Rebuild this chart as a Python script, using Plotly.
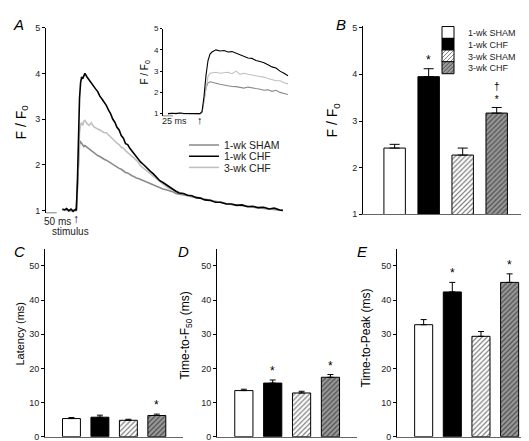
import plotly.graph_objects as go

FONT = "Arial, Liberation Sans, sans-serif"
W, H = 529, 441

# ---------------- Panel A: Ca transients (time in ms, stimulus at 0) ----------------
trace_t = [-65, -55, -45, -35, -25, -15, -5, 0,
           5, 10, 15, 20, 25, 30, 35, 40,
           50, 60, 70, 80, 90, 100, 110, 120, 130, 140, 150, 160, 170, 180, 190, 200,
           210, 220, 230, 240, 250, 260, 270, 280, 290, 300,
           315, 330, 345, 360, 375, 390, 405, 420, 435, 450, 465, 480,
           500, 520, 540, 560, 580, 600,
           625, 650, 675, 700, 725, 750, 775, 800, 825, 850, 875, 900, 925, 950, 965]
chf1_trace = [1.03, 1.01, 1.04, 0.99, 1.03, 0.98, 1.02, 1.00,
              1.6, 2.7, 3.45, 3.8, 3.92, 3.88, 3.97, 4.0,
              3.92, 3.85, 3.8, 3.72, 3.66, 3.6, 3.5, 3.44, 3.38, 3.3, 3.2, 3.12, 3.0, 2.93, 2.82, 2.76,
              2.64, 2.58, 2.46, 2.44, 2.36, 2.3, 2.25, 2.18, 2.12, 2.06,
              2.0, 1.92, 1.86, 1.8, 1.72, 1.65, 1.61, 1.56, 1.5, 1.46, 1.42, 1.38,
              1.37, 1.33, 1.32, 1.28, 1.27, 1.23,
              1.22, 1.18, 1.18, 1.14, 1.14, 1.11, 1.12, 1.08, 1.09, 1.06, 1.07, 1.03, 1.05, 1.01, 1.00]
chf3_trace = [1.01, 1.0, 1.02, 1.0, 1.01, 0.99, 1.0, 1.0,
              1.4, 2.2, 2.7, 2.88, 2.92, 2.86, 2.95, 2.97,
              2.9, 2.86, 2.92, 2.84, 2.8, 2.78, 2.76, 2.72, 2.7, 2.7, 2.66, 2.6, 2.56, 2.52, 2.47, 2.44,
              2.38, 2.36, 2.31, 2.27, 2.22, 2.2, 2.14, 2.1, 2.05, 1.98,
              1.92, 1.86, 1.8, 1.75, 1.69, 1.62, 1.57, 1.52, 1.48, 1.45, 1.42, 1.39,
              1.36, 1.33, 1.31, 1.28, 1.26, 1.24,
              1.21, 1.19, 1.17, 1.15, 1.13, 1.12, 1.1, 1.09, 1.08, 1.06, 1.06, 1.04, 1.03, 1.02, 1.01]
sham1_trace = [1.0, 1.02, 1.0, 1.01, 0.99, 1.01, 1.0, 1.0,
               1.5, 2.2, 2.45, 2.5, 2.46, 2.44, 2.4, 2.42,
               2.38, 2.34, 2.32, 2.27, 2.24, 2.2, 2.18, 2.14, 2.12, 2.1, 2.07, 2.04, 2.0, 1.98, 1.95, 1.92,
               1.9, 1.86, 1.83, 1.82, 1.78, 1.76, 1.74, 1.71, 1.7, 1.68,
               1.64, 1.62, 1.58, 1.55, 1.52, 1.5, 1.47, 1.45, 1.43, 1.41, 1.37, 1.36,
               1.34, 1.32, 1.3, 1.28, 1.26, 1.24,
               1.21, 1.19, 1.17, 1.15, 1.13, 1.12, 1.1, 1.09, 1.07, 1.06, 1.05, 1.04, 1.03, 1.02, 1.0]

# inset (expanded time base)
inset_t = [-80, -70, -60, -50, -40, -30, -20, -10, 0,
           5, 10, 15, 20, 25, 30,
           40, 50, 60, 70, 80, 90, 100, 110, 120, 130, 140, 150, 160, 170, 180, 190, 200, 210, 220]
inset_chf1 = [1.0, 1.02, 1.0, 1.03, 1.01, 1.0, 1.02, 0.99, 1.0,
              1.1, 1.8, 2.8, 3.5, 3.8, 3.9,
              4.0, 3.95, 3.97, 3.9, 3.92, 3.85, 3.75, 3.7, 3.62, 3.6, 3.5, 3.45, 3.4, 3.3, 3.2, 3.15, 3.0, 2.9, 2.78]
inset_chf3 = [1.0, 1.01, 1.0, 1.02, 1.0, 1.01, 1.0, 1.0, 1.0,
              1.05, 1.6, 2.3, 2.75, 2.9, 2.92,
              2.95, 2.9, 2.93, 2.95, 2.88, 3.0, 2.85, 2.9, 2.85, 2.8, 2.78, 2.75, 2.72, 2.65, 2.6, 2.55, 2.55, 2.45, 2.4]
inset_sham1 = [1.0, 1.01, 1.0, 1.02, 1.0, 1.01, 1.0, 1.0, 1.0,
               1.05, 1.6, 2.2, 2.45, 2.5, 2.48,
               2.42, 2.38, 2.35, 2.3, 2.28, 2.27, 2.25, 2.2, 2.25, 2.2, 2.18, 2.15, 2.1, 2.12, 2.05, 2.1, 2.0, 1.95, 1.9]

# ---------------- Bar panels ----------------
groups = ["1-wk SHAM", "1-wk CHF", "3-wk SHAM", "3-wk CHF"]
peak_mean = [2.42, 3.95, 2.27, 3.17]
peak_sem = [0.08, 0.17, 0.15, 0.12]
peak_marks = ["", "*", "", "†<br>*"]
latency_mean = [5.3, 5.7, 4.8, 6.2]
latency_sem = [0.3, 0.6, 0.3, 0.4]
latency_marks = ["", "", "", "*"]
tf50_mean = [13.5, 15.7, 12.8, 17.4]
tf50_sem = [0.4, 0.9, 0.5, 0.8]
tf50_marks = ["", "*", "", "*"]
ttp_mean = [32.8, 42.4, 29.4, 45.2]
ttp_sem = [1.5, 2.8, 1.4, 2.5]
ttp_marks = ["", "*", "", "*"]


def px(x):
    return x / W


def py(y):
    return 1 - y / H


fig = go.Figure()

# ---- Panel A traces ----
line_colors = {"1-wk SHAM": "#8a8a8a", "1-wk CHF": "#000000", "3-wk CHF": "#c0c0c0"}
main_data = {"1-wk SHAM": sham1_trace, "1-wk CHF": chf1_trace, "3-wk CHF": chf3_trace}
inset_data = {"1-wk SHAM": inset_sham1, "1-wk CHF": inset_chf1, "3-wk CHF": inset_chf3}
legend_ids = {"1-wk SHAM": "legend", "1-wk CHF": "legend2", "3-wk CHF": "legend3"}
for name in ["1-wk SHAM", "3-wk CHF", "1-wk CHF"]:
    fig.add_trace(go.Scatter(x=trace_t, y=main_data[name], mode="lines", name=name,
                             line=dict(color=line_colors[name], width=1.6),
                             xaxis="x", yaxis="y", showlegend=True, legend=legend_ids[name]))
for name in ["1-wk SHAM", "3-wk CHF", "1-wk CHF"]:
    fig.add_trace(go.Scatter(x=inset_t, y=inset_data[name], mode="lines", name=name,
                             line=dict(color=line_colors[name], width=1.1),
                             xaxis="x2", yaxis="y2", showlegend=False))

# ---- Bars ----
bar_styles = [
    dict(color="white", line=dict(color="black", width=1)),
    dict(color="black", line=dict(color="black", width=1)),
    dict(color="white", line=dict(color="black", width=1),
         pattern=dict(shape="/", fgcolor="black", bgcolor="white", size=3.5, solidity=0.35)),
    dict(color="#9a9a9a", line=dict(color="black", width=1),
         pattern=dict(shape="/", fgcolor="black", bgcolor="#9a9a9a", size=3.5, solidity=0.35)),
]
panels = [
    ("x3", "y3", peak_mean, peak_sem, peak_marks, 5, True),
    ("x4", "y4", latency_mean, latency_sem, latency_marks, 3, False),
    ("x5", "y5", tf50_mean, tf50_sem, tf50_marks, 3, False),
    ("x6", "y6", ttp_mean, ttp_sem, ttp_marks, 3, False),
]
annotations = []
for xa, ya, means, sems, marks, capw, show in panels:
    for i, g in enumerate(groups):
        kw = dict(legend=f"legend{4 + i}") if show else {}
        fig.add_trace(go.Bar(
            x=[i], y=[means[i]], width=0.63, name=g, marker=bar_styles[i],
            error_y=dict(type="data", array=[sems[i]], arrayminus=[0], symmetric=False,
                         color="black", thickness=1, width=capw),
            xaxis=xa, yaxis=ya, showlegend=show, **kw))
        if marks[i]:
            multi = "<br>" in marks[i]
            annotations.append(dict(x=i, y=means[i] + sems[i], xref=xa, yref=ya, text=marks[i],
                                    showarrow=False, yanchor="bottom", yshift=0,
                                    font=dict(family=FONT, size=10 if multi else 12, color="black")))

# ---- axes ----
yax_common = dict(showline=True, linecolor="black", linewidth=1, ticks="outside", ticklen=3,
                  tickcolor="black", tickfont=dict(family=FONT, size=9, color="#222"),
                  showgrid=False, zeroline=False)
xbar_common = dict(showline=True, linecolor="#666", linewidth=1, ticks="", showticklabels=False,
                   showgrid=False, zeroline=False, range=[-0.93, 3.92])
BOT = 433.5

layout = dict(
    width=W, height=H, margin=dict(l=0, r=0, t=0, b=0),
    paper_bgcolor="white", plot_bgcolor="rgba(0,0,0,0)",
    barmode="overlay", font=dict(family=FONT, color="black"),
    xaxis=dict(domain=[px(38), px(280)], range=[-141.6, 989], visible=False),
    yaxis=dict(domain=[py(204.8), py(15)], range=[0.94, 5], tickvals=[1, 2, 3, 4, 5], **yax_common),
    xaxis2=dict(domain=[px(155), px(282)], range=[-92.5, 225], visible=False),
    yaxis2=dict(domain=[py(105.6), py(16)], range=[0.88, 5], tickvals=[1, 2, 3, 4, 5],
                **{**yax_common, "tickfont": dict(family=FONT, size=8, color="#222"), "ticklen": 2}),
    xaxis3=dict(domain=[px(355), px(520)], **xbar_common),
    yaxis3=dict(domain=[py(206), py(13.1)], range=[1, 5.04], tickvals=[1, 2, 3, 4, 5], **yax_common),
    xaxis4=dict(domain=[px(37), px(175)], **xbar_common),
    yaxis4=dict(domain=[py(BOT), py(241.4)], range=[0, 55], tickvals=[0, 10, 20, 30, 40, 50], **yax_common),
    xaxis5=dict(domain=[px(209), px(349)], **xbar_common),
    yaxis5=dict(domain=[py(BOT), py(241.4)], range=[0, 55], tickvals=[0, 10, 20, 30, 40, 50], **yax_common),
    xaxis6=dict(domain=[px(389), px(528)], **xbar_common),
    yaxis6=dict(domain=[py(BOT), py(241.4)], range=[0, 55], tickvals=[0, 10, 20, 30, 40, 50], **yax_common),
)
for i, k in enumerate(["xaxis", "xaxis2", "xaxis3", "xaxis4", "xaxis5", "xaxis6"]):
    layout[k]["anchor"] = ["y", "y2", "y3", "y4", "y5", "y6"][i]
for i, k in enumerate(["yaxis", "yaxis2", "yaxis3", "yaxis4", "yaxis5", "yaxis6"]):
    layout[k]["anchor"] = ["x", "x2", "x3", "x4", "x5", "x6"][i]

# legends: one per entry so spacing can be as tight as in the figure
leg_base = dict(bgcolor="rgba(0,0,0,0)", borderwidth=0, xanchor="left", yanchor="middle",
                itemwidth=30, itemclick=False, itemdoubleclick=False)
legA_y = {"legend": 135, "legend2": 146.5, "legend3": 158}
for lid, yy in legA_y.items():
    layout[lid] = dict(x=px(176), y=py(yy), font=dict(family=FONT, size=10.5, color="#222"), **leg_base)
for i in range(4):
    layout[f"legend{4 + i}"] = dict(x=px(420), y=py(20 + 12 * i),
                                    font=dict(family=FONT, size=9, color="#222"), **leg_base)


def txt(x, y, s, size=12, angle=0, italic=False, color="black"):
    annotations.append(dict(x=px(x), y=py(y), xref="paper", yref="paper", text=s, showarrow=False,
                            textangle=angle, xanchor="center", yanchor="middle",
                            font=dict(family=FONT, size=size, color=color,
                                      style="italic" if italic else "normal")))


for letter, (lx, ly) in {"A": (10, 12), "B": (333, 12), "C": (11, 244), "D": (175, 244), "E": (354, 244)}.items():
    txt(lx, ly, letter, size=15, italic=True)
txt(14, 112, "F / F<sub>0</sub>", size=14, angle=-90)
txt(137, 61, "F / F<sub>0</sub>", size=10, angle=-90)
txt(325, 110, "F / F<sub>0</sub>", size=14, angle=-90)
txt(12, 328, "Latency (ms)", size=11, angle=-90)
txt(178, 330, "Time-to-F<sub>50</sub> (ms)", size=12, angle=-90)
txt(358, 333, "Time-to-Peak (ms)", size=12, angle=-90)
txt(49, 213, "50 ms", size=10, color="#222")
txt(166, 111, "25 ms", size=9, color="#222")
txt(62, 224, "stimulus", size=10, color="#222")

# stimulus arrows (glyphs placed at stimulus time 0)
annotations.append(dict(x=0, y=py(211), xref="x", yref="paper", text="↑", showarrow=False,
                        yanchor="middle", font=dict(family=FONT, size=12, color="black")))
annotations.append(dict(x=0, y=py(109), xref="x2", yref="paper", text="↑", showarrow=False,
                        yanchor="middle", font=dict(family=FONT, size=11, color="black")))

# time scale bars (50 ms main, 25 ms inset) along the bottom of each y axis
shapes = [
    dict(type="line", xref="x", yref="y", x0=-141.6, x1=-141.6 + 50, y0=0.94, y1=0.94,
         line=dict(color="black", width=1)),
    dict(type="line", xref="x2", yref="y2", x0=-92.5, x1=-92.5 + 25, y0=0.88, y1=0.88,
         line=dict(color="black", width=1)),
]
layout["annotations"] = annotations
layout["shapes"] = shapes
fig.update_layout(**layout)
fig.write_html("out.html")
